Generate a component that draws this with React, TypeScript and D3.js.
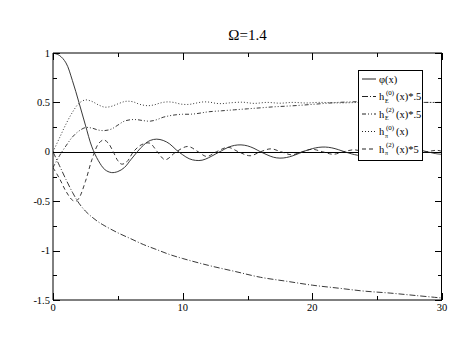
import React from 'react';
import * as d3 from 'd3';

const title = 'Ω=1.4';
const xTicks = [0, 10, 20, 30];
const xMinor = [5, 15, 25];
const yTicks = [1, 0.5, 0, -0.5, -1, -1.5];
const yTickLabels = ['1', '0.5', '0', '-0.5', '-1', '-1.5'];
const yMinor = [0.75, 0.25, -0.25, -0.75, -1.25];

// phi(x), solid
const phiX = [0, 0.5, 1, 1.5, 2, 2.5, 3, 3.5, 4, 4.5, 5, 5.5, 6, 6.5, 7, 7.5, 8, 8.5, 9, 9.5, 10, 10.5, 11, 11.5, 12, 12.5, 13, 13.5, 14, 14.5, 15, 15.5, 16, 16.5, 17, 17.5, 18, 18.5, 19, 19.5, 20, 20.5, 21, 21.5, 22, 22.5, 23, 23.5, 24, 24.5, 25, 25.5, 26, 26.5, 27, 27.5, 28, 28.5, 29, 29.5, 30];
const phiY = [1.0, 0.975, 0.9, 0.72, 0.5, 0.27, 0.05, -0.09, -0.18, -0.21, -0.2, -0.16, -0.08, 0.0, 0.07, 0.115, 0.128, 0.115, 0.08, 0.02, -0.03, -0.07, -0.087, -0.085, -0.06, -0.025, 0.01, 0.045, 0.065, 0.07, 0.06, 0.035, 0.0, -0.03, -0.055, -0.064, -0.058, -0.04, -0.015, 0.012, 0.032, 0.045, 0.048, 0.04, 0.022, 0.0, -0.02, -0.035, -0.04, -0.036, -0.024, -0.006, 0.012, 0.026, 0.034, 0.034, 0.026, 0.012, -0.004, -0.018, -0.027];

// h_E^(0)(x)*.5, dash-dot
const hE0X = [0, 0.5, 1, 1.5, 2, 2.5, 3, 3.5, 4, 5, 6, 7, 8, 9, 10, 12, 14, 16, 18, 20, 22, 24, 26, 28, 30];
const hE0Y = [0, -0.14, -0.28, -0.41, -0.52, -0.6, -0.66, -0.71, -0.75, -0.82, -0.88, -0.94, -0.99, -1.04, -1.08, -1.15, -1.21, -1.27, -1.31, -1.35, -1.38, -1.41, -1.43, -1.455, -1.48];

// h_E^(2)(x)*.5, dash-dot-dot
const hE2X = [0, 0.5, 1, 1.5, 2, 2.5, 3, 3.5, 4, 4.5, 5, 5.5, 6, 6.5, 7, 7.5, 8, 8.5, 9, 9.5, 10, 10.5, 11, 11.5, 12, 13, 14, 15, 16, 17, 18, 19, 20, 21, 22, 23, 24, 25, 26, 27, 28, 29, 30];
const hE2Y = [-0.16, -0.04, 0.06, 0.15, 0.21, 0.245, 0.24, 0.22, 0.215, 0.23, 0.27, 0.31, 0.325, 0.325, 0.315, 0.31, 0.325, 0.35, 0.365, 0.375, 0.38, 0.38, 0.385, 0.395, 0.405, 0.415, 0.425, 0.435, 0.445, 0.455, 0.462, 0.47, 0.48, 0.49, 0.5, 0.505, 0.51, 0.51, 0.51, 0.505, 0.5, 0.5, 0.5];

// h_pi^(0)(x), dotted
const hP0X = [0, 0.5, 1, 1.5, 2, 2.5, 3, 3.5, 4, 4.5, 5, 5.5, 5.8, 6.2, 6.7, 7.3, 7.8, 8.3, 8.8, 9.3, 9.9, 10.5, 11, 11.6, 12.1, 12.6, 13.1, 13.6, 14.6, 15.5, 16.5, 17.5, 18.5, 19.5, 20.5, 22, 24, 26, 28, 30];
const hP0Y = [0, 0.14, 0.28, 0.4, 0.49, 0.525, 0.51, 0.475, 0.452, 0.46, 0.485, 0.508, 0.512, 0.505, 0.48, 0.467, 0.475, 0.495, 0.505, 0.5, 0.482, 0.48, 0.492, 0.505, 0.502, 0.49, 0.488, 0.495, 0.502, 0.49, 0.5, 0.492, 0.5, 0.494, 0.5, 0.495, 0.5, 0.496, 0.5, 0.498];

// h_pi^(2)(x)*5, dashed
const hP2X = [0, 0.5, 1, 1.5, 1.75, 2, 2.5, 3, 3.5, 3.9, 4.25, 4.65, 5, 5.3, 5.7, 6.2, 6.8, 7.45, 8.05, 8.65, 9.5, 10.4, 11.2, 11.85, 12.6, 13.5, 14.3, 15.2, 16.0, 16.8, 17.6, 18.4, 19.2, 20.0, 20.8, 21.6, 22.4, 23.2, 24.0, 24.8, 25.6, 26.4, 27.2, 28.0, 28.8, 29.6, 30];
const hP2Y = [-0.16, -0.27, -0.4, -0.49, -0.5, -0.47, -0.3, -0.08, 0.08, 0.12, 0.09, 0.0, -0.09, -0.125, -0.1, 0.0, 0.07, 0.088, 0.0, -0.08, 0.0, 0.054, 0.0, -0.047, 0.0, 0.045, 0.0, -0.04, 0.0, 0.03, 0.0, -0.03, 0.0, 0.025, 0.0, -0.025, 0.0, 0.02, 0.0, -0.02, 0.0, 0.018, 0.0, -0.018, 0.0, 0.015, 0.005];

const series = [
  { xs: phiX, ys: phiY, dash: null, sup: '', sub: '', label: 'φ(x)' },
  { xs: hE0X, ys: hE0Y, dash: '6,2,1,2', sup: '(0)', sub: 'E', label: '(x)*.5' },
  { xs: hE2X, ys: hE2Y, dash: '4,2,1,2,1,2', sup: '(2)', sub: 'E', label: '(x)*.5' },
  { xs: hP0X, ys: hP0Y, dash: '1,2', sup: '(0)', sub: 'π', label: '(x)' },
  { xs: hP2X, ys: hP2Y, dash: '4,3', sup: '(2)', sub: 'π', label: '(x)*5' },
];

const W = 458;
const H = 354;
const left = 53;
const right = 442;
const top = 53;
const bottom = 300;
const font = 'Liberation Serif, Times New Roman, Times, serif';

export default function App() {
  const x = d3.scaleLinear().domain([0, 30]).range([left, right]);
  const y = d3.scaleLinear().domain([-1.5, 1]).range([bottom, top]);

  const line = d3.line<[number, number]>()
    .x(d => x(d[0]))
    .y(d => y(d[1]))
    .curve(d3.curveCatmullRom.alpha(0.5));

  const lx = 358, ly = 70, lw = 64, lh = 90;
  const rowH = 17.5;

  return (
    <svg width={W} height={H} style={{ position: 'absolute', left: 0, top: 0, background: '#fff', fontFamily: font }}>
      <defs>
        <clipPath id="plot">
          <rect x={left} y={top} width={right - left} height={bottom - top} />
        </clipPath>
      </defs>
      <text x={(left + right) / 2} y={40} textAnchor="middle" style={{ fontFamily: font, fontSize: 15 }}>{title}</text>

      {/* zero line */}
      <line x1={left} x2={right} y1={Math.round(y(0)) + 0.5} y2={Math.round(y(0)) + 0.5} stroke="#000" />

      <g clipPath="url(#plot)" fill="none" stroke="#222" strokeWidth={0.9}>
        {series.map((s, i) => (
          <path key={i} d={line(s.xs.map((v, j) => [v, s.ys[j]]) as [number, number][]) || ''}
            strokeDasharray={s.dash || undefined} />
        ))}
      </g>

      {/* frame */}
      <g stroke="#000" strokeWidth={1}>
        <line x1={left} x2={left} y1={top} y2={bottom} />
        <line x1={left} x2={right} y1={top} y2={top} />
        <line x1={left} x2={right} y1={bottom} y2={bottom} />
        <line x1={right - 0.5} x2={right - 0.5} y1={top} y2={bottom} />
        {xTicks.map(t => (
          <g key={'xt' + t}>
            <line x1={Math.round(x(t)) + 0.5} x2={Math.round(x(t)) + 0.5} y1={bottom} y2={bottom - 7} />
            <line x1={Math.round(x(t)) + 0.5} x2={Math.round(x(t)) + 0.5} y1={top} y2={top + 7} />
          </g>
        ))}
        {xMinor.map(t => (
          <g key={'xm' + t}>
            <line x1={Math.round(x(t)) + 0.5} x2={Math.round(x(t)) + 0.5} y1={bottom} y2={bottom - 4} />
            <line x1={Math.round(x(t)) + 0.5} x2={Math.round(x(t)) + 0.5} y1={top} y2={top + 4} />
          </g>
        ))}
        {yTicks.map(t => (
          <g key={'yt' + t}>
            <line x1={left} x2={left + 7} y1={Math.round(y(t)) + 0.5} y2={Math.round(y(t)) + 0.5} />
            <line x1={right} x2={right - 7} y1={Math.round(y(t)) + 0.5} y2={Math.round(y(t)) + 0.5} />
          </g>
        ))}
        {yMinor.map(t => (
          <g key={'ym' + t}>
            <line x1={left} x2={left + 4} y1={Math.round(y(t)) + 0.5} y2={Math.round(y(t)) + 0.5} />
            <line x1={right} x2={right - 4} y1={Math.round(y(t)) + 0.5} y2={Math.round(y(t)) + 0.5} />
          </g>
        ))}
      </g>

      <g style={{ fontFamily: font, fontSize: 10.5 }} fill="#000">
        {xTicks.map(t => (
          <text key={'xl' + t} x={x(t)} y={bottom + 11} textAnchor="middle">{t}</text>
        ))}
        {yTicks.map((t, i) => (
          <text key={'yl' + t} x={left - 3} y={y(t) + 3.5} textAnchor="end">{yTickLabels[i]}</text>
        ))}
      </g>

      {/* legend */}
      <rect x={lx + 0.5} y={ly + 0.5} width={lw} height={lh} fill="#fff" stroke="#000" />
      <g style={{ fontFamily: font, fontSize: 10.5 }}>
        {series.map((s, i) => {
          const cy = ly + 9 + i * rowH;
          return (
            <g key={'lg' + i}>
              <line x1={lx + 4} x2={lx + 18} y1={cy} y2={cy} stroke="#222" strokeDasharray={s.dash || undefined} />
              {s.sup === '' ? (
                <text x={lx + 21} y={cy + 3.5}>{s.label}</text>
              ) : (
                <g>
                  <text x={lx + 21} y={cy + 3.5}>h</text>
                  <text x={lx + 27} y={cy + 6} style={{ fontSize: 6 }}>{s.sub}</text>
                  <text x={lx + 28} y={cy - 2} style={{ fontSize: 7 }}>{s.sup}</text>
                  <text x={lx + 38} y={cy + 3.5}>{s.label}</text>
                </g>
              )}
            </g>
          );
        })}
      </g>
    </svg>
  );
}
